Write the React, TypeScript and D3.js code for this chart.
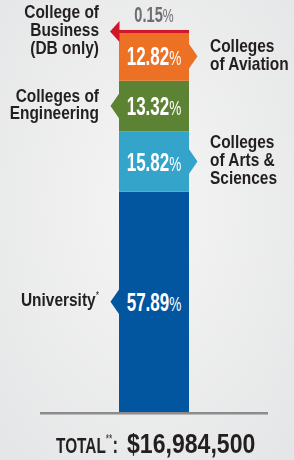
import React from "react";
import * as d3 from "d3";

const categories = [
  "University",
  "Colleges of Arts & Sciences",
  "Colleges of Engineering",
  "Colleges of Aviation",
  "College of Business (DB only)",
];
const labelLines = [
  ["University*"],
  ["Colleges", "of Arts &", "Sciences"],
  ["Colleges of", "Engineering"],
  ["Colleges", "of Aviation"],
  ["College of", "Business", "(DB only)"],
];
const shares = [57.89, 15.82, 13.32, 12.82, 0.15];
const colors = ["#02559f", "#35a4cb", "#5c8233", "#ec7125", "#d0172a"];
const totalLabel = "TOTAL";
const totalMark = "**";
const totalValue = "$16,984,500";

const W = 294;
const H = 460;
const barX0 = 119;
const barX1 = 189;
const baseY = 412;
const topY = 31.4;

function splitStar(s: string) {
  const m = s.match(/^(.*?)(\**)$/);
  return m ? [m[1], m[2]] : [s, ""];
}

export default function App() {
  const y = d3.scaleLinear().domain([0, d3.sum(shares)]).range([baseY, topY]);
  const cum = Array.from(d3.cumsum(shares));
  const cx = (barX0 + barX1) / 2;
  const lh = 17.7;
  const capH = 13;

  const segs = shares.map((v, i) => {
    const start = i === 0 ? 0 : cum[i - 1];
    const end = cum[i];
    const yBot = y(start);
    const yTop = y(end);
    let h = yBot - yTop;
    let top = yTop;
    if (h < 3) {
      h = 3;
      top = yBot - 2;
    }
    return { v, i, yBot, yTop, top, h, mid: top + h / 2, left: i % 2 === 0 };
  });

  return (
    <svg
      width={W}
      height={H}
      style={{ position: "fixed", left: 0, top: 0 }}
      fontFamily="'Liberation Sans', Arial, sans-serif"
    >
      <defs>
        <radialGradient id="bg" cx="50%" cy="45%" r="75%">
          <stop offset="0%" stopColor="#f5f5f5" />
          <stop offset="100%" stopColor="#e4e5e6" />
        </radialGradient>
      </defs>
      <rect x={0} y={0} width={W} height={H} fill="url(#bg)" />

      {segs.map((s) => {
        const small = s.h < 20;
        const ah = small ? 10.5 : 13;
        const aw = small ? 9 : 8.5;
        const tri = s.left
          ? `M${barX0 + 0.5},${s.mid - ah} L${barX0 - aw},${s.mid} L${barX0 + 0.5},${s.mid + ah} Z`
          : `M${barX1 - 0.5},${s.mid - ah} L${barX1 + aw},${s.mid} L${barX1 - 0.5},${s.mid + ah} Z`;
        return (
          <g key={categories[s.i]}>
            <rect x={barX0} y={s.top} width={barX1 - barX0} height={s.h} fill={colors[s.i]} />
            <path d={tri} fill={colors[s.i]} />
          </g>
        );
      })}

      {segs.map((s) => {
        const small = s.h < 20;
        const num = s.v.toFixed(2);
        const baseline = small ? s.top - 7.5 : s.mid + 9;
        return (
          <g key={"p" + s.i} transform={`translate(${cx},${baseline}) scale(0.68,1)`}>
            <text
              x={0}
              y={0}
              textAnchor="middle"
              fill={small ? "#6d6e71" : "#ffffff"}
              fontFamily="'Liberation Sans Narrow', 'Liberation Sans', sans-serif"
            >
              <tspan fontWeight="bold" fontSize={small ? 21.5 : 25}>{num}</tspan>
              <tspan fontSize={small ? 18 : 20}>%</tspan>
            </text>
          </g>
        );
      })}

      {segs.map((s) => {
        const lines = labelLines[s.i];
        const n = lines.length;
        const x = s.left ? 99 : 210;
        return (
          <g key={"l" + s.i} transform={`translate(${x},0) scale(0.86,1)`}>
            <text
              textAnchor={s.left ? "end" : "start"}
              fontWeight="bold"
              fontSize={18}
              fill="#231f20"
            >
              {lines.map((ln, j) => {
                const [main, star] = splitStar(ln);
                const by = s.mid - 2 + capH / 2 + (j - (n - 1) / 2) * lh;
                return (
                  <tspan key={j} x={0} y={by}>
                    {main}
                    {star ? (
                      <tspan fontSize={10} fontWeight="normal" dy={-7}>
                        {star}
                      </tspan>
                    ) : null}
                  </tspan>
                );
              })}
            </text>
          </g>
        );
      })}

      <line x1={40} x2={268} y1={413.3} y2={413.3} stroke="#8c8c8e" strokeWidth={2.6} />

      <g transform={`translate(118,453) scale(0.7,1)`}>
        <text
          textAnchor="end"
          fill="#231f20"
          fontFamily="'Liberation Sans Narrow', 'Liberation Sans', sans-serif"
        >
          <tspan fontSize={22} fontWeight="bold">{totalLabel}</tspan>
          <tspan fontSize={12} dy={-10}>{totalMark}</tspan>
          <tspan fontSize={24} fontWeight="bold" dy={10}>:</tspan>
        </text>
      </g>
      <g transform={`translate(127,453) scale(0.84,1)`}>
        <text
          textAnchor="start"
          fill="#231f20"
          fontWeight="bold"
          fontSize={27.5}
          fontFamily="'Liberation Sans Narrow', 'Liberation Sans', sans-serif"
        >
          {totalValue}
        </text>
      </g>
    </svg>
  );
}
